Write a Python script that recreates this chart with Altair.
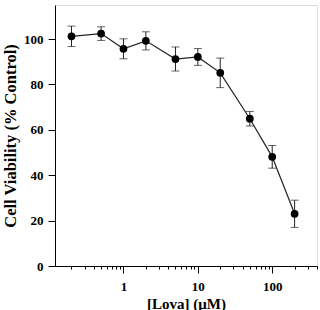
import altair as alt
import pandas as pd

conc = [0.2, 0.5, 1, 2, 5, 10, 20, 50, 100, 200]
viability = [101.2, 102.4, 95.7, 99.2, 91.2, 92.1, 85.1, 64.9, 48.1, 23.0]
err = [4.5, 3.0, 4.4, 4.0, 5.3, 3.7, 6.5, 3.2, 5.0, 6.0]

major_ticks = [1, 10, 100]
minor_ticks = [0.2, 0.3, 0.4, 0.5, 0.6, 0.7, 0.8, 0.9,
               2, 3, 4, 5, 6, 7, 8, 9,
               20, 30, 40, 50, 60, 70, 80, 90,
               200, 300, 400]
y_ticks = [0, 20, 40, 60, 80, 100]

XT = "[Lova] (μM)"
YT = "Cell Viability (% Control)"

df = pd.DataFrame({"conc": conc, "v": viability, "e": err})
df["lo"] = df["v"] - df["e"]
df["hi"] = df["v"] + df["e"]

FONT = "Liberation Serif"
is_major = "datum.value == 1 || datum.value == 10 || datum.value == 100"

xscale = alt.Scale(type="log", domain=[0.12, 400], nice=False)
yscale = alt.Scale(domain=[0, 115], nice=False)

x_enc = alt.X("conc:Q", scale=xscale, title=XT,
              axis=alt.Axis(values=sorted(major_ticks + minor_ticks),
                            labelExpr=f"({is_major}) ? datum.label : ''",
                            format="~g",
                            tickSize={"condition": {"test": is_major, "value": 7}, "value": 3},
                            grid=False, domainColor="black", tickColor="black",
                            labelFont=FONT, labelFontWeight="bold", labelFontSize=13,
                            labelColor="black", labelPadding=7, labelOverlap=False,
                            titleFont=FONT, titleFontWeight="bold", titleFontSize=15,
                            titleColor="black", titlePadding=3))

y_enc = alt.Y("v:Q", scale=yscale, title=YT,
              axis=alt.Axis(values=y_ticks, tickSize=7, grid=False,
                            domainColor="black", tickColor="black",
                            labelFont=FONT, labelFontWeight="bold", labelFontSize=13,
                            labelColor="black", labelPadding=5,
                            titleFont=FONT, titleFontWeight="bold", titleFontSize=16.5,
                            titleColor="black", titlePadding=5))

base = alt.Chart(df)

line = base.mark_line(color="#222222", strokeWidth=1.2).encode(x=x_enc, y=y_enc)
bars = base.mark_errorbar(ticks=alt.MarkConfig(size=8), color="#222222", thickness=1).encode(
    x=alt.X("conc:Q", scale=xscale, title=XT),
    y=alt.Y("lo:Q", scale=yscale, title=YT),
    y2="hi:Q")
pts = base.mark_circle(size=60, color="black", opacity=1).encode(
    x=alt.X("conc:Q", scale=xscale, title=XT), y=alt.Y("v:Q", scale=yscale, title=YT))

chart = alt.layer(line, bars, pts).properties(
    width=262, height=261,
    autosize=alt.AutoSizeParams(type="none"),
    padding={"left": 55, "top": 5, "right": 3, "bottom": 44},
).configure_view(stroke=None).configure(background="white")

chart.save("out.html", embed_options={"renderer": "svg", "actions": False})
